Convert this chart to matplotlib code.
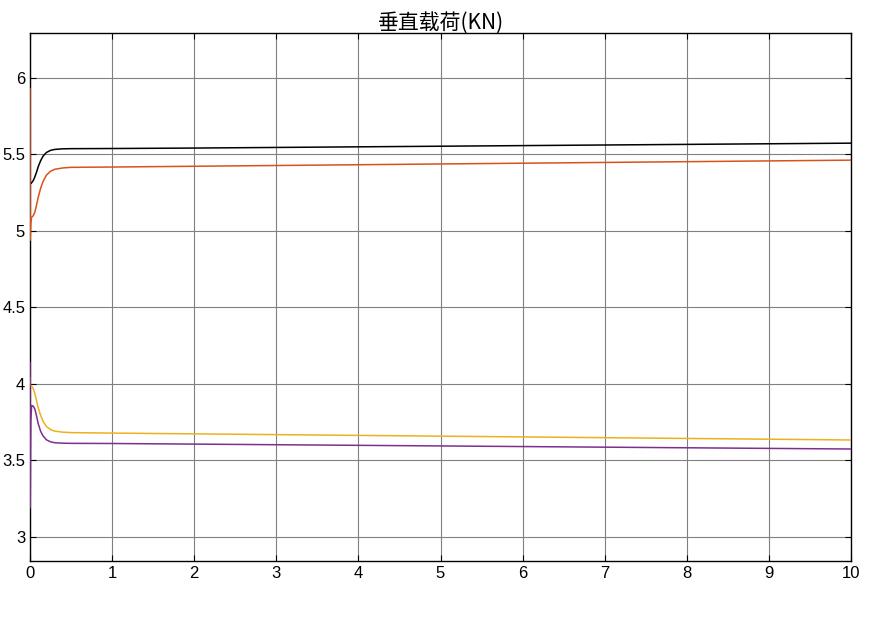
import matplotlib
matplotlib.use('Agg')
import matplotlib.pyplot as plt

plt.rcParams['font.family'] = ['Liberation Sans', 'Noto Sans CJK SC', 'DejaVu Sans']

# time samples (s)
t = [0, 0.002, 0.01, 0.02, 0.04, 0.06, 0.08, 0.1, 0.13, 0.16, 0.2, 0.25, 0.3, 0.4, 0.5,
     1, 2, 3, 4, 5, 6, 7, 8, 9, 10]

black = [5.31, 5.31, 5.31, 5.315, 5.33, 5.355, 5.385, 5.42, 5.46, 5.49, 5.513, 5.527, 5.533, 5.537, 5.538,
         5.539, 5.542, 5.546, 5.550, 5.554, 5.558, 5.562, 5.566, 5.570, 5.574]
orange = [5.93, 4.94, 5.05, 5.09, 5.10, 5.125, 5.17, 5.22, 5.28, 5.325, 5.365, 5.39, 5.403, 5.412, 5.416,
          5.418, 5.423, 5.428, 5.433, 5.438, 5.443, 5.448, 5.453, 5.458, 5.463]
yellow = [4.04, 4.0, 3.99, 3.985, 3.97, 3.935, 3.89, 3.845, 3.795, 3.755, 3.722, 3.702, 3.692, 3.685, 3.682,
          3.679, 3.674, 3.669, 3.664, 3.659, 3.654, 3.649, 3.644, 3.639, 3.634]
purple = [4.14, 3.19, 3.76, 3.86, 3.855, 3.835, 3.79, 3.74, 3.69, 3.66, 3.635, 3.622, 3.616, 3.613, 3.612,
          3.611, 3.607, 3.603, 3.599, 3.595, 3.591, 3.587, 3.583, 3.579, 3.575]

fig = plt.figure(figsize=(8.75, 6.19), dpi=100)
ax = fig.add_axes([30/875, 1-561/619, 821/875, 528/619])

ax.plot(t, black, color='black', lw=1.1, zorder=3)
ax.plot(t, orange, color='#D95319', lw=1.1, zorder=3)
ax.plot(t, yellow, color='#EDB120', lw=1.1, zorder=3)
ax.plot(t, purple, color='#7E2F8E', lw=1.1, zorder=3)

ax.set_xlim(0, 10)
ax.set_ylim(2.843, 6.294)
ax.set_xticks(range(0, 11))
ax.set_yticks([3, 3.5, 4, 4.5, 5, 5.5, 6])
ax.set_yticklabels(['3', '3.5', '4', '4.5', '5', '5.5', '6'])
ax.grid(True, color='#808080', lw=0.8)
ax.tick_params(direction='in', top=True, right=True, labelsize=12, length=4, colors='black')
for s in ax.spines.values():
    s.set_linewidth(1.0)
ax.set_title('垂直载荷(KN)', fontsize=15, family=['Noto Sans CJK SC', 'DejaVu Sans'], pad=3)

fig.savefig('out.png')
